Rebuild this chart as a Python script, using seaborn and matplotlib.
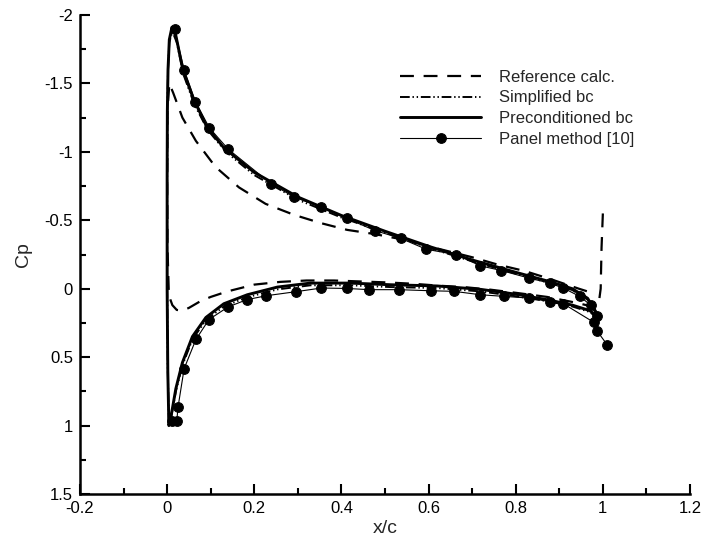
import numpy as np
import pandas as pd
import matplotlib
matplotlib.use("Agg")
import matplotlib.pyplot as plt
import seaborn as sns
from matplotlib.ticker import FixedLocator, MultipleLocator

# ---------------- data ----------------
# Preconditioned bc (solid): TE lower -> LE -> TE upper
pre_x = [0.99, 0.97, 0.93, 0.88, 0.80, 0.72, 0.62, 0.513, 0.421, 0.329, 0.253, 0.184,
         0.13, 0.089, 0.058, 0.035, 0.02, 0.008, 0.004, 0.0015, 0.0, 0.0, 0.0005,
         0.002, 0.005, 0.011, 0.02, 0.036, 0.06, 0.09, 0.13, 0.20, 0.30, 0.40, 0.50,
         0.60, 0.70, 0.80, 0.88, 0.93, 0.965, 0.99]
pre_cp = [0.21, 0.16, 0.12, 0.085, 0.04, 0.005, -0.02, -0.029, -0.041, -0.041, -0.012, 0.044,
          0.11, 0.21, 0.35, 0.54, 0.73, 0.95, 1.0, 0.6, 0.0, -0.8, -1.3,
          -1.6, -1.82, -1.91, -1.85, -1.6, -1.39, -1.19, -1.03, -0.85, -0.67, -0.535, -0.42,
          -0.31, -0.21, -0.12, -0.05, 0.0, 0.07, 0.2]

# Simplified bc (dash-dot-dot)
sim_x = [0.99, 0.97, 0.93, 0.88, 0.80, 0.72, 0.62, 0.513, 0.421, 0.329, 0.253, 0.184,
         0.13, 0.089, 0.058, 0.035, 0.02, 0.008, 0.004, 0.0015, 0.0, 0.0, 0.0005,
         0.002, 0.005, 0.012, 0.022, 0.038, 0.062, 0.093, 0.135, 0.20, 0.30, 0.40, 0.50,
         0.60, 0.70, 0.80, 0.88, 0.93, 0.965, 0.99]
sim_cp = [0.22, 0.17, 0.13, 0.095, 0.055, 0.02, -0.005, -0.012, -0.025, -0.025, 0.005, 0.062,
          0.13, 0.23, 0.37, 0.56, 0.75, 0.96, 1.0, 0.6, 0.0, -0.8, -1.3,
          -1.6, -1.8, -1.88, -1.8, -1.56, -1.35, -1.16, -1.0, -0.83, -0.65, -0.52, -0.41,
          -0.30, -0.20, -0.11, -0.04, 0.01, 0.08, 0.21]

# Reference calc (dashed)
ref_x = [1.0, 0.997, 0.995, 0.99, 0.975, 0.941, 0.872, 0.803, 0.742, 0.681, 0.624, 0.566,
         0.505, 0.444, 0.383, 0.32, 0.26, 0.20, 0.138, 0.10, 0.077, 0.05, 0.035, 0.022,
         0.012, 0.004, 0.0008, 0.0, 0.0008, 0.005, 0.014, 0.035, 0.066, 0.111, 0.165,
         0.226, 0.291, 0.352, 0.413, 0.475, 0.54, 0.60, 0.70, 0.76, 0.82, 0.88, 0.945, 0.975]
ref_cp = [-0.55, -0.3, 0.0, 0.12, 0.13, 0.104, 0.06, 0.031, 0.007, -0.012, -0.022, -0.036,
          -0.046, -0.053, -0.06, -0.06, -0.05, -0.03, 0.02, 0.06, 0.09, 0.14, 0.16, 0.155,
          0.12, 0.05, -0.3, -0.8, -1.3, -1.5, -1.43, -1.25, -1.08, -0.89, -0.74,
          -0.62, -0.54, -0.48, -0.43, -0.40, -0.36, -0.31, -0.23, -0.175, -0.13, -0.07, 0.0, 0.03]

# Panel method [10] (line + filled circles), lower and upper surfaces
pan_lo_x = [1.01, 0.987, 0.979, 0.909, 0.878, 0.830, 0.773, 0.719, 0.658, 0.605, 0.532,
            0.464, 0.412, 0.354, 0.295, 0.228, 0.183, 0.140, 0.096, 0.066, 0.039, 0.025,
            0.022, 0.010]
pan_lo_cp = [0.41, 0.31, 0.245, 0.109, 0.094, 0.068, 0.056, 0.044, 0.019, 0.015, 0.007,
             0.007, -0.002, -0.005, 0.022, 0.051, 0.080, 0.133, 0.225, 0.371, 0.584, 0.865,
             0.97, 0.97]
pan_up_x = [0.017, 0.039, 0.065, 0.097, 0.140, 0.238, 0.291, 0.354, 0.412, 0.478, 0.536,
            0.595, 0.664, 0.719, 0.767, 0.830, 0.878, 0.909, 0.947, 0.972, 0.987]
pan_up_cp = [-1.895, -1.60, -1.366, -1.175, -1.02, -0.768, -0.671, -0.594, -0.514, -0.424, -0.368,
             -0.288, -0.249, -0.167, -0.133, -0.078, -0.041, -0.005, 0.056, 0.12, 0.20]

xticks = [-0.2, 0, 0.2, 0.4, 0.6, 0.8, 1, 1.2]
xticklabels = ["-0.2", "0", "0.2", "0.4", "0.6", "0.8", "1", "1.2"]
yticks = [-2, -1.5, -1, -0.5, 0, 0.5, 1, 1.5]
yticklabels = ["-2", "-1.5", "-1", "-0.5", "0", "0.5", "1", "1.5"]

# ---------------- plotting ----------------
sns.set_theme(style="ticks")
plt.rcParams["font.family"] = ["Liberation Sans", "DejaVu Sans"]
plt.rcParams["lines.scale_dashes"] = False

fig = plt.figure(figsize=(7.05, 5.43), dpi=100)
ax = fig.add_axes([80 / 705, 1 - 494 / 543, (690 - 80) / 705, (494 - 15) / 543])

def df(x, y):
    return pd.DataFrame({"x": x, "y": y})

sns.lineplot(data=df(ref_x, ref_cp), x="x", y="y", sort=False, estimator=None, ax=ax,
             color="black", linewidth=1.6, linestyle=(0, (10, 7)), label="Reference calc.")
sns.lineplot(data=df(sim_x, sim_cp), x="x", y="y", sort=False, estimator=None, ax=ax,
             color="black", linewidth=1.4, linestyle=(0, (7, 2, 1, 2, 1, 2)), label="Simplified bc")
sns.lineplot(data=df(pre_x, pre_cp), x="x", y="y", sort=False, estimator=None, ax=ax,
             color="black", linewidth=2.1, linestyle="-", label="Preconditioned bc")
pan_kw = dict(color="black", linewidth=0.8, linestyle="-", marker="o", markersize=7,
              markerfacecolor="black", markeredgecolor="black")
sns.lineplot(data=df(pan_lo_x, pan_lo_cp), x="x", y="y", sort=False, estimator=None, ax=ax,
             label="Panel method [10]", **pan_kw)
sns.lineplot(data=df(pan_up_x, pan_up_cp), x="x", y="y", sort=False, estimator=None, ax=ax,
             label="_nolegend_", **pan_kw)

ax.set_xlim(-0.2, 1.2)
ax.set_ylim(1.5, -2)
ax.xaxis.set_major_locator(FixedLocator(xticks))
ax.set_xticklabels(xticklabels)
ax.yaxis.set_major_locator(FixedLocator(yticks))
ax.set_yticklabels(yticklabels)
ax.xaxis.set_minor_locator(MultipleLocator(0.1))
ax.yaxis.set_minor_locator(MultipleLocator(0.25))
ax.tick_params(which="both", direction="in", width=1.5, colors="black", labelsize=12,
               top=False, right=False)
ax.tick_params(axis="x", which="major", pad=5)
ax.tick_params(axis="y", which="major", pad=5)
ax.tick_params(which="major", length=7)
ax.tick_params(which="minor", length=4)
for s in ["top", "right"]:
    ax.spines[s].set_visible(False)
for s in ["left", "bottom"]:
    ax.spines[s].set_linewidth(1.8)
    ax.spines[s].set_color("black")

ax.set_xlabel("x/c", fontsize=14, labelpad=3)
ax.set_ylabel("Cp", fontsize=14, labelpad=9)

leg = ax.legend(loc="upper left", bbox_to_anchor=(0.525, 0.886), frameon=False, fontsize=12,
                handlelength=4.85, handletextpad=1.05, labelspacing=0.35, borderpad=0,
                borderaxespad=0, numpoints=1)

fig.savefig("out.png", dpi=100)
